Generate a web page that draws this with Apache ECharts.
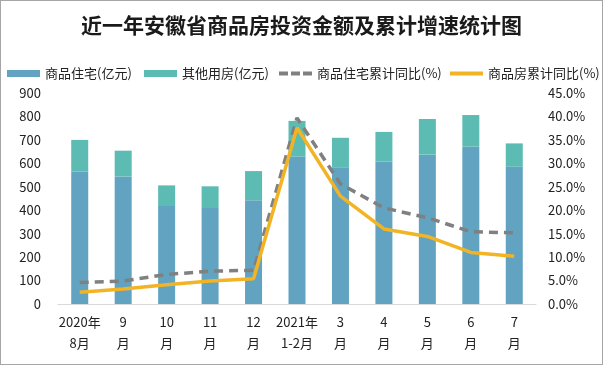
<!DOCTYPE html>
<html><head><meta charset="utf-8">
<script src="https://cdn.jsdelivr.net/npm/echarts@6/dist/echarts.min.js"></script>
<style>html,body{margin:0;padding:0;background:#fff}#c{width:601px;height:363px;border:1px solid #a6a6a6}</style>
</head><body><div id="c"></div>
<script>
const categories = ['2020年\n8月','9\n月','10\n月','11\n月','12\n月','2021年\n1-2月','3\n月','4\n月','5\n月','6\n月','7\n月'];
const residential = [565, 544, 418, 409, 443, 629, 583, 608, 637, 671, 586];
const otherHousing = [135, 110, 88, 93, 124, 152, 126, 126, 152, 135, 99];
const residentialGrowth = [4.6, 4.9, 6.3, 7.0, 7.2, 39.7, 25.6, 20.5, 18.4, 15.4, 15.2];
const commercialGrowth = [2.5, 3.2, 4.1, 4.9, 5.4, 37.6, 23.0, 16.0, 14.4, 11.0, 10.2];
const seriesNames = ['商品住宅(亿元)', '其他用房(亿元)', '商品住宅累计同比(%)', '商品房累计同比(%)'];
const leftTicks = {min: 0, max: 900, interval: 100};
const rightTicks = {min: 0, max: 45, interval: 5};

const chart = echarts.init(document.getElementById('c'));
const font = '"Noto Sans CJK SC", sans-serif';
const legendLefts = [6, 143, 278, 449];
const legendIcons = ['rect', 'rect',
  'path://M0,0h9v4h-9z M12,0h9v4h-9z M24,0h9v4h-9z',
  'path://M0,0h33v4h-33z'];
const legends = seriesNames.map((n, i) => ({
  left: legendLefts[i], top: 66, itemWidth: 33, itemHeight: 7, padding: 0,
  textStyle: {fontSize: 13, color: '#222', fontFamily: font},
  data: [{name: n, icon: legendIcons[i]}]
}));
chart.setOption({
  animation: false,
  textStyle: {fontFamily: font},
  title: {
    text: '近一年安徽省商品房投资金额及累计增速统计图',
    left: 'center', top: 9,
    textStyle: {fontSize: 21, fontWeight: 'bold', color: '#1a1a1a', fontFamily: font}
  },
  legend: legends,
  grid: {left: 57, right: 66, top: 92, bottom: 60},
  xAxis: {
    type: 'category', data: categories,
    axisLine: {lineStyle: {color: '#d9d9d9'}},
    axisTick: {show: false},
    axisLabel: {color: '#222', fontSize: 13, lineHeight: 21, margin: 8, interval: 0, fontFamily: font}
  },
  yAxis: [
    {type: 'value', min: leftTicks.min, max: leftTicks.max, interval: leftTicks.interval,
     splitLine: {show: false}, axisLine: {show: false}, axisTick: {show: false},
     axisLabel: {color: '#222', fontSize: 13, margin: 17, fontFamily: font}},
    {type: 'value', min: rightTicks.min, max: rightTicks.max, interval: rightTicks.interval,
     splitLine: {show: false}, axisLine: {show: false}, axisTick: {show: false},
     axisLabel: {color: '#222', fontSize: 13, margin: 12, fontFamily: font,
       formatter: v => v.toFixed(1) + '%'}}
  ],
  series: [
    {name: seriesNames[0], type: 'bar', stack: 'a', data: residential, barWidth: 17,
     itemStyle: {color: '#62a3c1'}},
    {name: seriesNames[1], type: 'bar', stack: 'a', data: otherHousing, barWidth: 17,
     itemStyle: {color: '#5cbcb4'}},
    {name: seriesNames[2], type: 'line', yAxisIndex: 1, data: residentialGrowth,
     symbol: 'none', lineStyle: {color: '#808080', width: 3.5, type: [9, 6]},
     itemStyle: {color: '#808080'}},
    {name: seriesNames[3], type: 'line', yAxisIndex: 1, data: commercialGrowth,
     symbol: 'none', lineStyle: {color: '#f2b424', width: 3.5},
     itemStyle: {color: '#f2b424'}}
  ]
});
</script></body></html>
